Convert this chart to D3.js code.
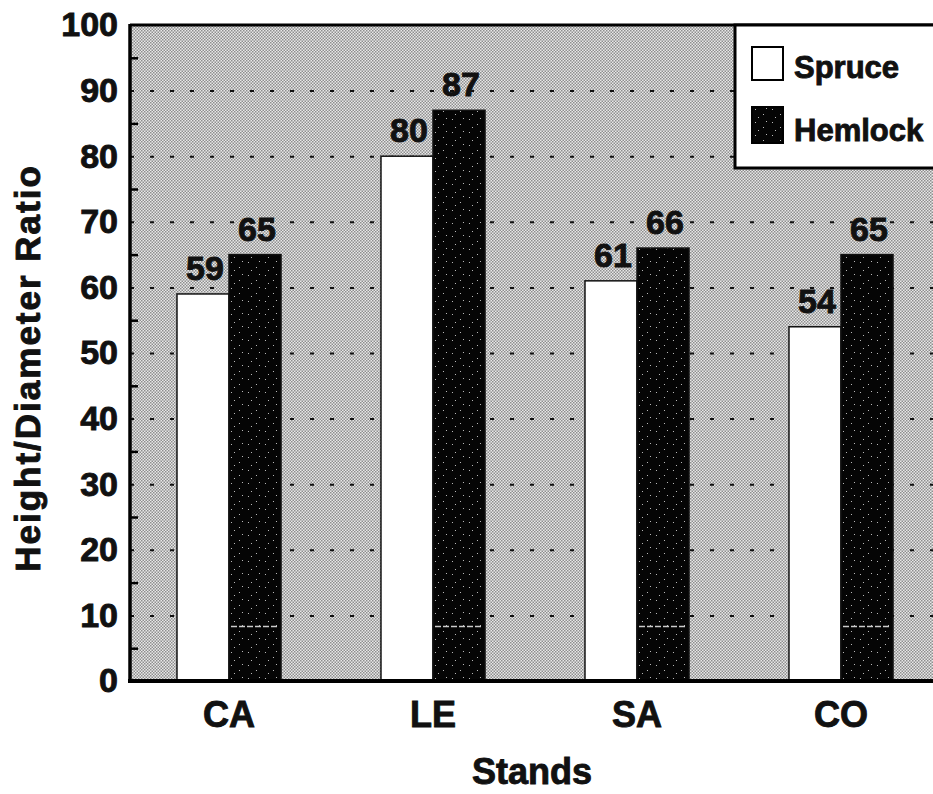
<!DOCTYPE html>
<html>
<head>
<meta charset="utf-8">
<script src="https://cdn.jsdelivr.net/npm/d3@7"></script>
<style>
	html, body { margin: 0; padding: 0; background: #fff; }
	svg { display: block; font-family: "Liberation Sans", Arial, Helvetica, sans-serif; font-weight: bold; }
	svg text { stroke: #111; stroke-width: 0.9px; }
</style>
</head>
<body>
<svg id="chart" width="933" height="794"></svg>
<script>
// data
const stands = ["CA", "LE", "SA", "CO"];
const species = ["Spruce", "Hemlock"];
const spruceValues = [59, 80, 61, 54];
const hemlockValues = [65, 87, 66, 65];
const yTicks = [0, 10, 20, 30, 40, 50, 60, 70, 80, 90, 100];
const minorTicks = [5, 15, 25, 35, 45, 55, 65, 75, 85, 95];

const svg = d3.select("#chart");
const plot = { left: 130, right: 933, top: 25, bottom: 681 };

// patterns: grey stipple background and speckled black bars
const defs = svg.append("defs");
const bgPat = defs.append("pattern").attr("id", "stipple")
	.attr("width", 3).attr("height", 3).attr("patternUnits", "userSpaceOnUse");
bgPat.append("rect").attr("width", 3).attr("height", 3).attr("fill", "#e8e8e8");
bgPat.append("rect").attr("width", 1.5).attr("height", 1.5).attr("fill", "#8e8e8e");
bgPat.append("rect").attr("x", 1.5).attr("y", 1.5).attr("width", 1.5).attr("height", 1.5).attr("fill", "#8e8e8e");

const darkPat = defs.append("pattern").attr("id", "speckle")
	.attr("width", 17).attr("height", 13).attr("patternUnits", "userSpaceOnUse");
darkPat.append("rect").attr("width", 17).attr("height", 13).attr("fill", "#050505");
[[3, 2], [11, 7], [6, 10], [14, 1]].forEach(p => {
	darkPat.append("rect").attr("x", p[0]).attr("y", p[1]).attr("width", 1).attr("height", 1).attr("fill", "#bbb");
});

// scales
const x = d3.scaleBand().domain(stands).range([127, 943]).paddingInner(0.49).paddingOuter(0.245);
const xs = d3.scaleBand().domain(species).range([0, x.bandwidth()]);
const y = d3.scaleLinear().domain([0, 100]).range([plot.bottom, plot.top]);

// plot background
svg.append("rect").attr("x", plot.left).attr("y", plot.top)
	.attr("width", plot.right - plot.left).attr("height", plot.bottom - plot.top)
	.attr("fill", "url(#stipple)");

// dotted grid lines
const grid = svg.append("g").attr("transform", `translate(${plot.left},0)`)
	.call(d3.axisLeft(y).tickValues(d3.range(10, 100, 10)).tickSize(-(plot.right - plot.left)).tickFormat(""));
grid.select(".domain").remove();
grid.selectAll(".tick line").attr("stroke", "#111").attr("stroke-width", 2).attr("stroke-dasharray", "4,16");

// minor ticks inside left axis
const minor = svg.append("g").attr("transform", `translate(${plot.left},0)`)
	.call(d3.axisRight(y).tickValues(minorTicks).tickSize(8).tickFormat(""));
minor.select(".domain").remove();
minor.selectAll(".tick line").attr("stroke", "#000").attr("stroke-width", 2.5);

// bars
const groups = svg.append("g").selectAll("g").data(stands).enter().append("g")
	.attr("transform", d => `translate(${x(d)},0)`);

const rows = stands.map((s, i) => [
	{ species: "Spruce", value: spruceValues[i] },
	{ species: "Hemlock", value: hemlockValues[i] }
]);

groups.selectAll("rect").data((d, i) => rows[i]).enter().append("rect")
	.attr("x", d => xs(d.species))
	.attr("y", d => y(d.value))
	.attr("width", xs.bandwidth())
	.attr("height", d => plot.bottom - y(d.value))
	.attr("fill", d => d.species == "Spruce" ? "#fff" : "url(#speckle)")
	.attr("stroke", "#111")
	.attr("stroke-width", 1.5);

// faint scan streak across the dark bars
groups.append("line")
	.attr("x1", xs("Hemlock") + 2).attr("x2", xs("Hemlock") + xs.bandwidth() - 2)
	.attr("y1", y(8.3)).attr("y2", y(8.3))
	.attr("stroke", "#ccc").attr("stroke-width", 1.5).attr("stroke-dasharray", "6,2");

// value labels
groups.selectAll("text.val").data((d, i) => rows[i]).enter().append("text")
	.attr("class", "val")
	.attr("x", d => xs(d.species) + xs.bandwidth() / 2 + 2)
	.attr("y", d => y(d.value) - 14)
	.attr("text-anchor", "middle")
	.attr("font-size", 34)
	.attr("fill", "#111")
	.text(d => d.value);

// frame
svg.append("line").attr("x1", plot.left).attr("x2", plot.right).attr("y1", plot.top).attr("y2", plot.top)
	.attr("stroke", "#000").attr("stroke-width", 3);
svg.append("line").attr("x1", plot.left).attr("x2", plot.left).attr("y1", plot.top - 1).attr("y2", plot.bottom + 2)
	.attr("stroke", "#000").attr("stroke-width", 3.5);
svg.append("line").attr("x1", plot.left - 2).attr("x2", plot.right).attr("y1", plot.bottom).attr("y2", plot.bottom)
	.attr("stroke", "#000").attr("stroke-width", 4);

// y axis labels
const yAxis = svg.append("g").attr("transform", `translate(${plot.left},0)`)
	.call(d3.axisLeft(y).tickValues(yTicks).tickSize(0).tickPadding(12));
yAxis.select(".domain").remove();
yAxis.selectAll(".tick text").attr("font-size", 34).attr("font-family", "Liberation Sans, Arial, sans-serif")
	.attr("font-weight", "bold").attr("fill", "#111");

// x axis labels
const xAxis = svg.append("g").attr("transform", `translate(0,${plot.bottom})`)
	.call(d3.axisBottom(x).tickSize(0).tickPadding(20));
xAxis.select(".domain").remove();
xAxis.selectAll(".tick text").attr("font-size", 36).attr("font-family", "Liberation Sans, Arial, sans-serif")
	.attr("font-weight", "bold").attr("fill", "#111").attr("dy", "0.71em");

// axis titles
svg.append("text").attr("x", 532).attr("y", 784).attr("text-anchor", "middle")
	.attr("font-size", 36).attr("fill", "#111").text("Stands");
svg.append("text").attr("transform", "translate(40,368) rotate(-90)").attr("text-anchor", "middle")
	.attr("font-size", 35).attr("letter-spacing", 2).attr("fill", "#111").text("Height/Diameter Ratio");

// legend box
const legend = svg.append("g");
legend.append("rect").attr("x", 735).attr("y", 25).attr("width", 220).attr("height", 143)
	.attr("fill", "#fff").attr("stroke", "#000").attr("stroke-width", 3);
const legendRows = legend.selectAll("g").data(species).enter().append("g")
	.attr("transform", (d, i) => `translate(752,${47 + i * 60})`);
legendRows.append("rect").attr("width", 31).attr("height", d => d == "Spruce" ? 33 : 36)
	.attr("fill", d => d == "Spruce" ? "#fff" : "url(#speckle)")
	.attr("stroke", "#000").attr("stroke-width", 2);
legendRows.append("text").attr("x", 42).attr("y", d => d == "Spruce" ? 31 : 34)
	.attr("font-size", 31).attr("fill", "#111").text(d => d);
</script>
</body>
</html>
